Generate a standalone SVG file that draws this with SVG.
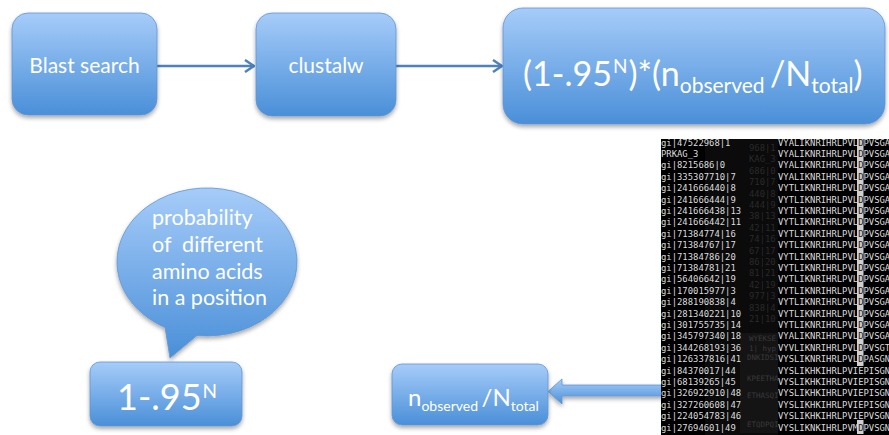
<svg xmlns="http://www.w3.org/2000/svg" width="889" height="435" viewBox="0 0 889 435">
<defs>
<linearGradient id="gBox" x1="0" y1="0" x2="0" y2="1">
<stop offset="0" stop-color="#a6ccf9"/>
<stop offset="1" stop-color="#4a8fd8"/>
</linearGradient>
<filter id="sh" x="-10%" y="-10%" width="120%" height="130%">
<feDropShadow dx="0" dy="2.5" stdDeviation="2" flood-color="#000" flood-opacity="0.35"/>
</filter>
<marker id="chev" viewBox="0 0 12 14" refX="11" refY="7" markerWidth="12" markerHeight="14" markerUnits="userSpaceOnUse" orient="auto">
<path d="M2,1 L11,7 L2,13" fill="none" stroke="#4f81bd" stroke-width="2.5"/>
</marker>
<clipPath id="shotClip"><rect x="661" y="139" width="228" height="296"/></clipPath>
<style>
.box{fill:url(#gBox);stroke:#5f95d4;stroke-width:0.8;filter:url(#sh)}
.lbl{font-family:Lato,"Open Sans",sans-serif;fill:#fff}
.conn{fill:none;stroke:#4f81bd;stroke-width:2.5}
.mono{font-family:"DejaVu Sans Mono","Liberation Mono",monospace;font-size:8.9px;fill:#dcdcdc}
.ghost{font-family:"DejaVu Sans Mono","Liberation Mono",monospace;font-size:8.9px;fill:#2a2a2a}
.ghost2{font-family:"DejaVu Sans Mono","Liberation Mono",monospace;font-size:7.5px;fill:#3a3a3a}
.hl{fill:#222}
</style>
</defs>
<rect width="889" height="435" fill="#fff"/>

<g id="connectors">
<line class="conn" x1="157" y1="66" x2="254" y2="66" marker-end="url(#chev)"/>
<line class="conn" x1="396" y1="66" x2="502" y2="66" marker-end="url(#chev)"/>
<path d="M680,385 L562,385 L562,379 L548,391.5 L562,404 L562,396 L680,396 Z" fill="url(#gBox)" stroke="#5f95d4" stroke-width="0.8" filter="url(#sh)"/>
</g>

<g id="blast">
<rect class="box" x="12" y="13" width="145" height="102" rx="16"/>
<text class="lbl" x="84.5" y="73" font-size="21" text-anchor="middle">Blast search</text>
</g>

<g id="clustalw">
<rect class="box" x="256" y="13" width="140" height="103" rx="16"/>
<text class="lbl" x="326" y="73" font-size="21" text-anchor="middle">clustalw</text>
</g>

<g id="formula">
<rect class="box" x="503" y="8" width="382" height="116" rx="20"/>
<text class="lbl" x="523" y="86" font-size="34" style="white-space:pre">(1-.95<tspan dx="1" dy="-13" font-size="19">N</tspan><tspan dx="1" dy="13">)*(n</tspan><tspan dy="7" font-size="21">observed </tspan><tspan dy="-7">/N</tspan><tspan dy="7" font-size="21">total</tspan><tspan dy="-7">)</tspan></text>
</g>

<g id="bubble">
<path d="M165,327.4 A90,74 0 1 1 197,335.5 L170,358 Z" fill="url(#gBox)" stroke="#5f95d4" stroke-width="0.8" filter="url(#sh)"/>
<text class="lbl" font-size="21.5" style="white-space:pre"><tspan x="152" y="225">probability</tspan><tspan x="152" y="252">of  different</tspan><tspan x="152" y="279">amino acids</tspan><tspan x="152" y="305">in a position</tspan></text>
</g>

<g id="prob">
<rect class="box" x="90" y="362" width="152" height="64" rx="10"/>
<text class="lbl" x="117" y="410" font-size="36">1-.95<tspan dx="1" dy="-12" font-size="19">N</tspan></text>
</g>

<g id="ratio">
<rect class="box" x="392" y="364" width="156" height="61" rx="10"/>
<text class="lbl" x="408" y="406" font-size="24" style="white-space:pre">n<tspan dy="5" font-size="14">observed </tspan><tspan dy="-5">/N</tspan><tspan dy="5" font-size="14">total</tspan></text>
</g>

<g id="alignment" clip-path="url(#shotClip)">
<rect x="661" y="139" width="228" height="296" fill="#000"/>
<rect x="705" y="139" width="73" height="296" fill="#0b0b0b"/>
<rect x="740" y="333" width="38" height="100" fill="#141414"/>
<rect x="857" y="139" width="6.5" height="227" fill="#cfcfcf"/>
<rect x="857" y="420" width="6.5" height="14" fill="#cfcfcf"/>
<g class="ghost">
<text x="749" y="151">968|1</text>
<text x="749" y="162">KAG_3</text>
<text x="749" y="174">686|0</text>
<text x="749" y="185">710|7</text>
<text x="749" y="197">440|8</text>
<text x="749" y="208">444|9</text>
<text x="749" y="219">38|13</text>
<text x="749" y="231">42|11</text>
<text x="749" y="242">74|16</text>
<text x="749" y="254">67|17</text>
<text x="749" y="265">86|20</text>
<text x="749" y="276">81|21</text>
<text x="749" y="288">42|19</text>
<text x="749" y="299">977|3</text>
<text x="749" y="311">838|4</text>
<text x="749" y="322">21|10</text>
</g>
<g class="ghost2">
<text x="749" y="341">WYEKSE</text>
<text x="749" y="351">1| hyp</text>
<text x="747" y="360">DNKIDSI</text>
<text x="747" y="381">KPEETHA</text>
<text x="747" y="398">ETHASQI</text>
<text x="747" y="427">ETQDPQI</text>
</g>
<g class="mono">
<text x="661" y="145.5">gi|47522968|1</text>
<text x="661" y="156.9">PRKAG_3</text>
<text x="661" y="168.3">gi|8215686|0</text>
<text x="661" y="179.7">gi|335307710|7</text>
<text x="661" y="191.1">gi|241666440|8</text>
<text x="661" y="202.5">gi|241666444|9</text>
<text x="661" y="213.9">gi|241666438|13</text>
<text x="661" y="225.3">gi|241666442|11</text>
<text x="661" y="236.7">gi|71384774|16</text>
<text x="661" y="248.1">gi|71384767|17</text>
<text x="661" y="259.5">gi|71384786|20</text>
<text x="661" y="270.9">gi|71384781|21</text>
<text x="661" y="282.3">gi|56406642|19</text>
<text x="661" y="293.7">gi|170015977|3</text>
<text x="661" y="305.1">gi|288190838|4</text>
<text x="661" y="316.5">gi|281340221|10</text>
<text x="661" y="327.9">gi|301755735|14</text>
<text x="661" y="339.3">gi|345797340|18</text>
<text x="661" y="350.7">gi|344268193|36</text>
<text x="661" y="362.1">gi|126337816|41</text>
<text x="661" y="373.5">gi|84370017|44</text>
<text x="661" y="384.9">gi|68139265|45</text>
<text x="661" y="396.3">gi|326922910|48</text>
<text x="661" y="407.7">gi|327260608|47</text>
<text x="661" y="419.1">gi|224054783|46</text>
<text x="661" y="430.5">gi|27694601|49</text>

<text x="778" y="145.5">VYALIKNRIHRLPVL<tspan class="hl">D</tspan>PVSGA</text>
<text x="778" y="156.9">VYALIKNRIHRLPVL<tspan class="hl">D</tspan>PVSGA</text>
<text x="778" y="168.3">VYALIKNRIHRLPVL<tspan class="hl">D</tspan>PVSGA</text>
<text x="778" y="179.7">VYALIKNRIHRLPVL<tspan class="hl">D</tspan>PVSGA</text>
<text x="778" y="191.1">VYTLIKNRIHRLPVL<tspan class="hl">D</tspan>PVSGA</text>
<text x="778" y="202.5">VYTLIKNRIHRLPVL<tspan class="hl">D</tspan>PVSGA</text>
<text x="778" y="213.9">VYTLIKNRIHRLPVL<tspan class="hl">D</tspan>PVSGA</text>
<text x="778" y="225.3">VYTLIKNRIHRLPVL<tspan class="hl">D</tspan>PVSGA</text>
<text x="778" y="236.7">VYTLIKNRIHRLPVL<tspan class="hl">D</tspan>PVSGA</text>
<text x="778" y="248.1">VYTLIKNRIHRLPVL<tspan class="hl">D</tspan>PVSGA</text>
<text x="778" y="259.5">VYTLIKNRIHRLPVL<tspan class="hl">D</tspan>PVSGA</text>
<text x="778" y="270.9">VYTLIKNRIHRLPVL<tspan class="hl">D</tspan>PVSGA</text>
<text x="778" y="282.3">VYTLIKNRIHRLPVL<tspan class="hl">D</tspan>PVSGA</text>
<text x="778" y="293.7">VYTLIKNRIHRLPVL<tspan class="hl">D</tspan>PVSGA</text>
<text x="778" y="305.1">VYTLIKNRIHRLPVL<tspan class="hl">D</tspan>PVSGA</text>
<text x="778" y="316.5">VYTLIKNRIHRLPVL<tspan class="hl">D</tspan>PVSGA</text>
<text x="778" y="327.9">VYTLIKNRIHRLPVL<tspan class="hl">D</tspan>PVSGA</text>
<text x="778" y="339.3">VYALIKNRIHRLPVL<tspan class="hl">D</tspan>PVSGA</text>
<text x="778" y="350.7">VYVLIKNRIHRLPVL<tspan class="hl">D</tspan>PVSGT</text>
<text x="778" y="362.1">VYSLIKNRIHRLPVL<tspan class="hl">D</tspan>PASGN</text>
<text x="778" y="373.5">VYSLIKHKIHRLPVIEPISGN</text>
<text x="778" y="384.9">VYSLIKHKIHRLPVIEPISGN</text>
<text x="778" y="396.3">VYSLIKHKIHRLPVIEPISGN</text>
<text x="778" y="407.7">VYSLIKHKIHRLPVIEPISGN</text>
<text x="778" y="419.1">VYSLIKHKIHRLPVIEPVSGN</text>
<text x="778" y="430.5">VYSLIKNKIHRLPVM<tspan class="hl">D</tspan>PVSGN</text>
</g>
</g>
</svg>
